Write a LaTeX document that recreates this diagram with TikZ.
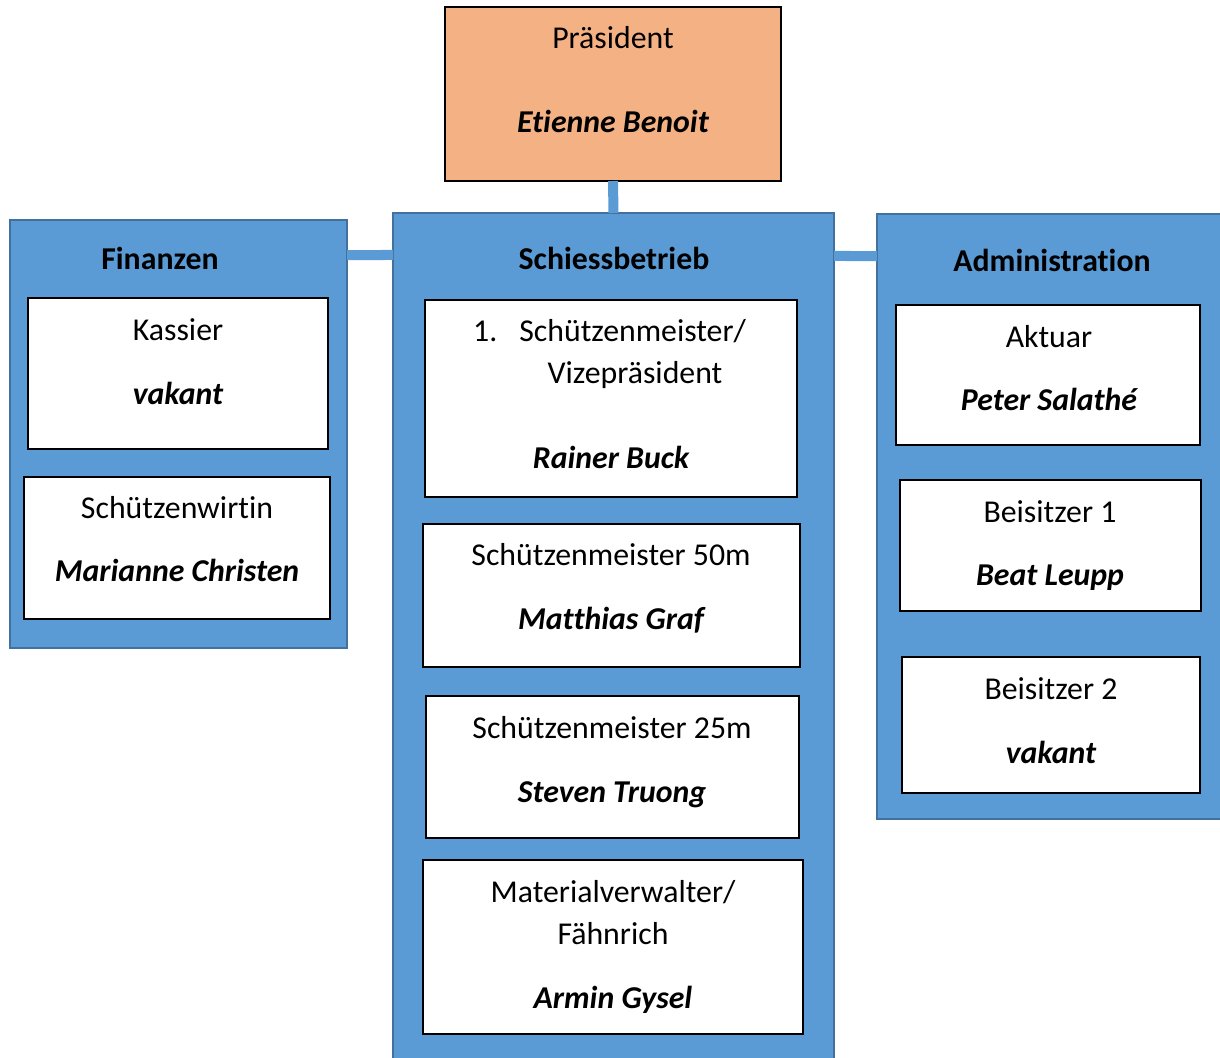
\documentclass[tikz,border=0pt]{standalone}
\usepackage{fontspec}
\setmainfont{Carlito}[Ligatures=NoCommon]
\usetikzlibrary{calc}
\definecolor{bfill}{HTML}{5B9BD5}
\definecolor{bdraw}{HTML}{41719C}
\definecolor{ofill}{HTML}{F4B183}
\tikzset{
  grp/.style={draw=bdraw, fill=bfill, line width=2bp, inner sep=0pt, outer sep=0pt},
  card/.style={draw=black, fill=white, line width=2bp, inner sep=0pt, outer sep=0pt},
  pbox/.style={draw=black, fill=ofill, line width=2bp, inner sep=0pt, outer sep=0pt},
  conn/.style={draw=bfill, line width=10bp},
  txt/.style={anchor=base, inner sep=0pt, font=\fontsize{31.8bp}{42bp}\selectfont},
  ttl/.style={txt, font=\fontsize{31.8bp}{42bp}\selectfont\bfseries},
  nm/.style={txt, font=\fontsize{31.8bp}{42bp}\selectfont\bfseries\itshape}
}
\begin{document}
\begin{tikzpicture}[x=1bp,y=-1bp]
\useasboundingbox (0,0) rectangle (1220,1058);
% groups
\node[pbox, minimum width=336bp, minimum height=174bp] (pres) at (613,94) {};
\node[grp, minimum width=337bp, minimum height=428bp] (fin) at (178.5,434) {};
\node[grp, minimum width=441bp, minimum height=851bp] (sch) at (613.5,638.5) {};
\node[grp, minimum width=349bp, minimum height=605bp] (adm) at (1051.5,516.5) {};
% connectors
\draw[conn] (pres.south) -- (sch.north);
\draw[conn] ($(fin.north east)+(0,35)$) -- ($(sch.north west)+(0,42)$);
\draw[conn] ($(sch.north east)+(0,43)$) -- ($(adm.north west)+(0,42)$);
% titles
\node[txt] (presT) at (613,48) {Präsident};
\node[nm] (presN) at (613,132) {Etienne Benoit};
\node[ttl] (finT) at (160,269) {Finanzen};
\node[ttl] (schT) at (614,269) {Schiessbetrieb};
\node[ttl] (admT) at (1052,271) {Administration};
% Finanzen cards
\node[card, minimum width=300bp, minimum height=151bp] (kas) at (178,373.5) {};
\node[txt] (kasT) at (178,340) {Kassier};
\node[nm] (kasN) at (178,404) {vakant};
\node[card, minimum width=306bp, minimum height=142bp] (wir) at (177,548) {};
\node[txt] (wirT) at (177,518) {Schützenwirtin};
\node[nm] (wirN) at (177,581) {Marianne Christen};
% Schiessbetrieb cards
\node[card, minimum width=372bp, minimum height=197bp] (s1) at (611,398.5) {};
\node[txt, anchor=base west] (s1a) at (473,341) {1.\hspace{22bp}Schützenmeister/};
\node[txt] (s1b) at (635,383) {Vizepräsident};
\node[nm] (s1N) at (611,468) {Rainer Buck};
\node[card, minimum width=377bp, minimum height=143bp] (s2) at (611.5,595.5) {};
\node[txt] (s2T) at (611,565) {Schützenmeister 50m};
\node[nm] (s2N) at (611,629) {Matthias Graf};
\node[card, minimum width=373bp, minimum height=142bp] (s3) at (612.5,767) {};
\node[txt] (s3T) at (612,738) {Schützenmeister 25m};
\node[nm] (s3N) at (612,802) {Steven Truong};
\node[card, minimum width=380bp, minimum height=174bp] (s4) at (613,947) {};
\node[txt] (s4a) at (613,902) {Materialverwalter/};
\node[txt] (s4b) at (613,944) {Fähnrich};
\node[nm] (s4N) at (613,1008) {Armin Gysel};
% Administration cards
\node[card, minimum width=304bp, minimum height=140bp] (a1) at (1048,375) {};
\node[txt] (a1T) at (1049,347) {Aktuar};
\node[nm] (a1N) at (1049,410) {Peter Salathé};
\node[card, minimum width=301bp, minimum height=131bp] (a2) at (1050.5,545.5) {};
\node[txt] (a2T) at (1050,522) {Beisitzer 1};
\node[nm] (a2N) at (1050,585) {Beat Leupp};
\node[card, minimum width=298bp, minimum height=136bp] (a3) at (1051,725) {};
\node[txt] (a3T) at (1051,699) {Beisitzer 2};
\node[nm] (a3N) at (1051,763) {vakant};
\end{tikzpicture}
\end{document}
